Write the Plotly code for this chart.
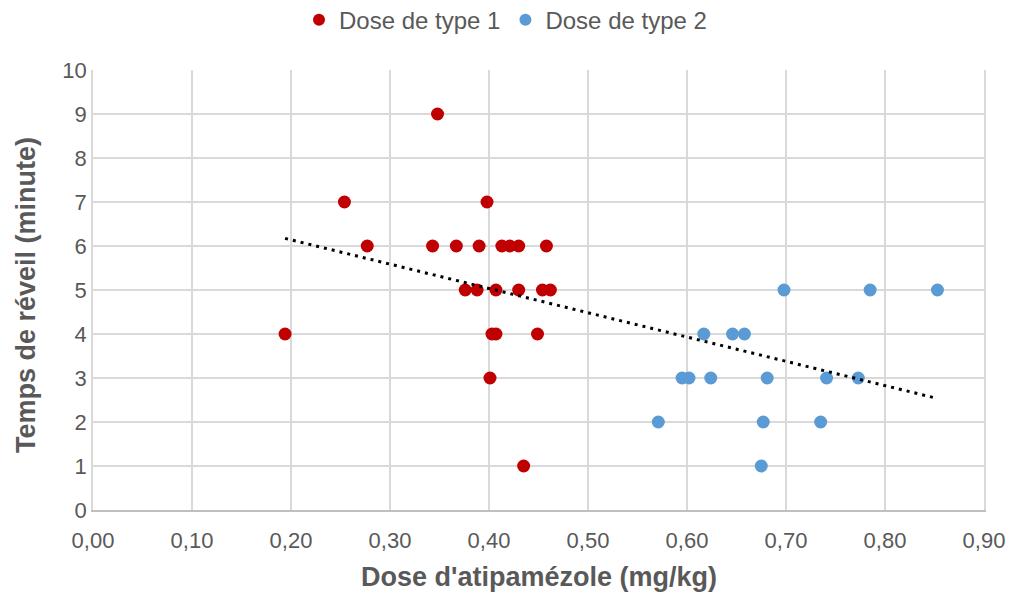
"""Temps de réveil en fonction de la dose d'atipamézole."""

import numpy as np
import plotly.graph_objects as go

_FONT = "Liberation Sans, Arial, sans-serif"
_GREY = "#595959"
_GRID = "#D9D9D9"

# Dose de type 1 (mg/kg) et temps de réveil (minute)
dose1_x = [0.348, 0.254, 0.398, 0.277, 0.343, 0.367, 0.390, 0.413, 0.421, 0.430,
           0.458, 0.376, 0.388, 0.407, 0.430, 0.454, 0.462, 0.194, 0.403, 0.407,
           0.449, 0.401, 0.435]
dose1_y = [9, 7, 7, 6, 6, 6, 6, 6, 6, 6,
           6, 5, 5, 5, 5, 5, 5, 4, 4, 4,
           4, 3, 1]

# Dose de type 2
dose2_x = [0.698, 0.785, 0.853, 0.617, 0.646, 0.658, 0.595, 0.602, 0.624, 0.681,
           0.741, 0.773, 0.571, 0.677, 0.735, 0.675]
dose2_y = [5, 5, 5, 4, 4, 4, 3, 3, 3, 3,
           3, 3, 2, 2, 2, 1]

x_ticks = [0.0, 0.1, 0.2, 0.3, 0.4, 0.5, 0.6, 0.7, 0.8, 0.9]
y_ticks = list(range(0, 11))

# courbe de tendance linéaire sur l'ensemble des points
all_x = np.array(dose1_x + dose2_x)
all_y = np.array(dose1_y + dose2_y)
slope, intercept = np.polyfit(all_x, all_y, 1)
trend_x = np.array([all_x.min(), all_x.max()])
trend_y = slope * trend_x + intercept

fig = go.Figure()
fig.add_trace(go.Scatter(
    x=dose1_x, y=dose1_y, mode="markers", name="Dose de type 1",
    marker=dict(color="#C00000", size=13),
))
fig.add_trace(go.Scatter(
    x=dose2_x, y=dose2_y, mode="markers", name="Dose de type 2",
    marker=dict(color="#5B9BD5", size=13),
))
fig.add_trace(go.Scatter(
    x=trend_x, y=trend_y, mode="lines", showlegend=False,
    line=dict(color="black", width=3, dash="3px,5px"),
    hoverinfo="skip",
))

fig.update_layout(
    width=1011,
    height=592,
    template="plotly_white",
    plot_bgcolor="white",
    paper_bgcolor="white",
    separators=", ",
    font=dict(family=_FONT, color=_GREY, size=22),
    margin=dict(l=93, r=27, t=70, b=82),
    legend=dict(
        orientation="h",
        xref="container", yref="container",
        x=0.5, xanchor="center",
        y=0.966, yanchor="middle",
        font=dict(size=24, color=_GREY),
        itemsizing="constant",
    ),
)

# titres des axes placés en annotations (position plus sûre sans automargin)
fig.add_annotation(
    text="<b>Dose d'atipamézole (mg/kg)</b>",
    xref="paper", yref="paper", x=0.5, y=0,
    xanchor="center", yanchor="middle", yshift=-67,
    showarrow=False, font=dict(size=27, color=_GREY),
)
fig.add_annotation(
    text="<b>Temps de réveil (minute)</b>",
    xref="paper", yref="paper", x=0, y=0.5,
    xanchor="center", yanchor="middle", xshift=-67, yshift=-5,
    textangle=-90, showarrow=False, font=dict(size=27, color=_GREY),
)

fig.update_xaxes(
    range=[0, 0.9],
    tickvals=x_ticks,
    tickformat=".2f",
    showgrid=True,
    gridcolor=_GRID,
    gridwidth=1.5,
    zeroline=False,
    showline=True,
    linecolor="#BFBFBF",
    linewidth=1.5,
    ticks="",
    ticklabelstandoff=10,
    ticklabeloverflow="allow",
    tickfont=dict(size=22, color=_GREY),
    automargin=False,
)
fig.update_yaxes(
    range=[0, 10],
    tickvals=y_ticks,
    showgrid=True,
    gridcolor=_GRID,
    gridwidth=1.5,
    zeroline=False,
    showline=True,
    mirror=True,
    linecolor=_GRID,
    linewidth=1.5,
    ticks="",
    tickfont=dict(size=22, color=_GREY),
    automargin=False,
)

# supprime la marge par défaut du body pour que la figure occupe toute la fenêtre
fig.write_html(
    "out.html",
    config={"displayModeBar": False},
    post_script="document.body.style.margin = '0';",
)
